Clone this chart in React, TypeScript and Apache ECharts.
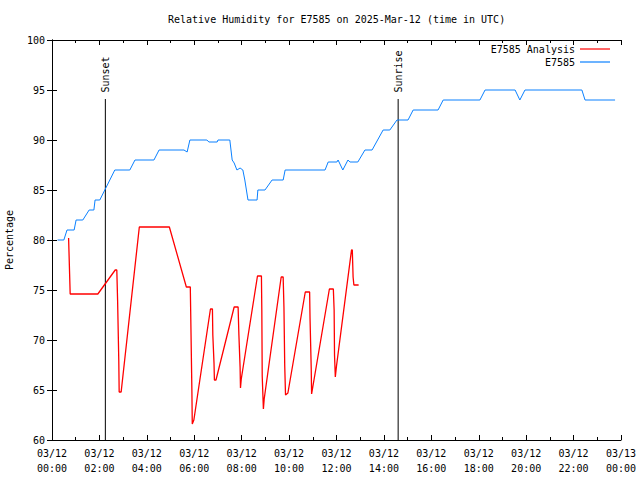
import React, { useEffect, useRef } from "react";
import * as echarts from "echarts";

const chartTitle = "Relative Humidity for E7585 on 2025-Mar-12 (time in UTC)";
const yAxisName = "Percentage";
const analysisName = "E7585 Analysis";
const obsName = "E7585";

const analysisTimes = [
  "00:42", "00:43", "00:45", "00:46", "01:56", "02:40", "02:44", "02:46", "02:49", "02:50",
  "02:55", "03:41", "04:57", "05:40", "05:50", "05:51", "05:54", "05:55", "05:59", "06:41",
  "06:46", "06:47", "06:50", "06:51", "06:55", "07:41", "07:51", "07:53", "07:56", "07:57",
  "07:59", "08:40", "08:50", "08:51", "08:52", "08:55", "08:57", "09:40", "09:45", "09:47",
  "09:49", "09:51", "09:57", "10:41", "10:52", "10:53", "10:56", "10:57", "11:00", "11:42",
  "11:52", "11:54", "11:55", "11:57", "12:00", "12:38", "12:40", "12:42", "12:44", "12:56",
];
const analysisValues = [
  80.2, 78.8, 76.0, 74.6, 74.6, 77.0, 77.0, 74.0, 68.0, 64.8,
  64.8, 81.3, 81.3, 75.3, 75.3, 72.8, 65.0, 61.6, 62.0, 73.1,
  73.1, 70.5, 67.7, 66.0, 66.0, 73.3, 73.3, 70.5, 67.3, 65.2,
  66.1, 76.4, 76.4, 73.0, 66.4, 63.1, 64.1, 76.3, 76.3, 73.3,
  67.4, 64.5, 64.7, 74.8, 74.8, 72.2, 67.2, 64.6, 65.3, 75.1,
  75.1, 73.0, 68.5, 66.3, 67.4, 79.0, 79.0, 76.3, 75.5, 75.5,
];

const obsTimes = [
  "00:14", "00:30", "00:38", "00:56", "01:01", "01:18", "01:34", "01:46", "01:49", "02:01",
  "02:39", "03:17", "03:30", "04:18", "04:31", "05:34", "05:42", "05:49", "06:32", "06:37",
  "06:58", "07:00", "07:30", "07:36", "07:41", "07:48", "07:56", "08:03", "08:08", "08:16",
  "08:39", "08:41", "08:59", "09:17", "09:45", "09:50", "11:31", "11:39", "12:01", "12:04",
  "12:16", "12:29", "12:34", "12:54", "13:12", "13:30", "13:58", "14:15", "14:33", "15:01",
  "15:14", "16:17", "16:30", "18:03", "18:16", "19:32", "19:44", "19:57", "22:21", "22:29",
  "23:45",
];
const obsValues = [
  80, 80, 81, 81, 82, 82, 83, 83, 84, 84,
  87, 87, 88, 88, 89, 89, 88.8, 90, 90, 89.8,
  89.8, 90, 90, 88, 87.7, 87, 87.2, 87, 86, 84,
  84, 85, 85, 86, 86, 87, 87, 87.8, 87.8, 88,
  87, 88, 87.8, 87.8, 89, 89, 91, 91, 92, 92,
  93, 93, 94, 94, 95, 95, 94, 95, 95, 94,
  94,
];

const sunEvents = ["Sunset", "Sunrise"];
const sunTimes = ["02:15", "14:36"];
const sunLineTop = 94.1;
const sunLabelAt = 94.6;

const xTickHours = [0, 2, 4, 6, 8, 10, 12, 14, 16, 18, 20, 22, 24];
const xTickLabels = [
  "03/12\n00:00", "03/12\n02:00", "03/12\n04:00", "03/12\n06:00", "03/12\n08:00",
  "03/12\n10:00", "03/12\n12:00", "03/12\n14:00", "03/12\n16:00", "03/12\n18:00",
  "03/12\n20:00", "03/12\n22:00", "03/13\n00:00",
];

const toHours = (s: string) => {
  const [h, m] = s.split(":").map(Number);
  return h + m / 60;
};

const FONT = "'DejaVu Sans Mono', 'Liberation Mono', monospace";

export default function App() {
  const ref = useRef<HTMLDivElement>(null);

  useEffect(() => {
    if (!ref.current) return;
    const chart = echarts.init(ref.current, null, { renderer: "svg" });

    const analysisData = analysisTimes.map((t, i) => [toHours(t), analysisValues[i]]);
    const obsData = obsTimes.map((t, i) => [toHours(t), obsValues[i]]);

    const sunSeries: any[] = [];
    sunEvents.forEach((name, i) => {
      const h = toHours(sunTimes[i]);
      sunSeries.push({
        name,
        type: "line",
        data: [
          [h, 60],
          [h, sunLineTop],
        ],
        symbol: "none",
        lineStyle: { color: "#000", width: 1 },
        silent: true,
        z: 1,
      });
      sunSeries.push({
        name: name + " label",
        type: "scatter",
        data: [[h, sunLabelAt]],
        symbolSize: 1,
        itemStyle: { color: "rgba(0,0,0,0)" },
        silent: true,
        label: {
          show: true,
          formatter: name,
          position: "top",
          distance: 0,
          rotate: 90,
          align: "left",
          verticalAlign: "middle",
          fontFamily: FONT,
          fontSize: 10,
          color: "#000",
          opacity: 1,
          offset: [1, 0],
        },
      });
    });

    const labelFor = (v: number) => {
      const idx = xTickHours.indexOf(Math.round(v));
      return idx >= 0 ? xTickLabels[idx] : "";
    };

    const legendCommon = {
      right: 30,
      padding: 0,
      align: "right",
      icon: "rect",
      itemWidth: 30,
      itemHeight: 1.2,
      textStyle: { fontFamily: FONT, fontSize: 10, color: "#000" },
    };

    chart.setOption({
      animation: false,
      backgroundColor: "#fff",
      textStyle: { fontFamily: FONT },
      title: {
        text: chartTitle,
        left: 168,
        top: 14,
        padding: 0,
        textStyle: { fontFamily: FONT, fontSize: 10, fontWeight: "normal", color: "#000" },
      },
      legend: [
        { ...legendCommon, data: [analysisName], top: 44 },
        { ...legendCommon, data: [obsName], top: 57 },
      ],
      grid: { left: 52, right: 19, top: 40, bottom: 40, containLabel: false, outerBoundsMode: "none" },
      xAxis: [
        {
          type: "value",
          min: 0,
          max: 24,
          interval: 2,
          position: "bottom",
          axisLine: { show: true, lineStyle: { color: "#000", width: 1 } },
          axisTick: { show: true, inside: true, length: 5, lineStyle: { color: "#000" } },
          minorTick: { show: true, splitNumber: 2, length: 3, lineStyle: { color: "#000" } },
          splitLine: { show: false },
          axisLabel: {
            formatter: labelFor,
            fontFamily: FONT,
            fontSize: 10,
            color: "#000",
            lineHeight: 15,
            margin: 6,
          },
        },
        {
          type: "value",
          min: 0,
          max: 24,
          interval: 2,
          position: "top",
          axisLine: { show: true, lineStyle: { color: "#000", width: 1 } },
          axisTick: { show: true, inside: true, length: 5, lineStyle: { color: "#000" } },
          minorTick: { show: true, splitNumber: 2, length: 3, lineStyle: { color: "#000" } },
          splitLine: { show: false },
          axisLabel: { show: false },
        },
      ],
      yAxis: [
        {
          type: "value",
          min: 60,
          max: 100,
          interval: 5,
          position: "left",
          name: yAxisName,
          nameLocation: "middle",
          nameRotate: 90,
          nameGap: 38,
          nameTextStyle: { fontFamily: FONT, fontSize: 10, color: "#000" },
          axisLine: { show: true, lineStyle: { color: "#000", width: 1 } },
          axisTick: { show: true, inside: true, length: 5, lineStyle: { color: "#000" } },
          splitLine: { show: false },
          axisLabel: { fontFamily: FONT, fontSize: 10, color: "#000", margin: 7 },
        },
        {
          type: "value",
          min: 60,
          max: 100,
          interval: 5,
          position: "right",
          axisLine: { show: true, lineStyle: { color: "#000", width: 1 } },
          axisTick: { show: true, inside: true, length: 5, lineStyle: { color: "#000" } },
          splitLine: { show: false },
          axisLabel: { show: false },
        },
      ],
      series: [
        {
          name: analysisName,
          type: "line",
          data: analysisData,
          symbol: "none",
          color: "#ff0000",
          lineStyle: { color: "#ff0000", width: 1.3 },
          z: 3,
        },
        {
          name: obsName,
          type: "line",
          data: obsData,
          symbol: "none",
          color: "#0a80ff",
          lineStyle: { color: "#0a80ff", width: 1 },
          z: 3,
        },
        ...sunSeries,
      ],
    });

    return () => chart.dispose();
  }, []);

  return <div ref={ref} style={{ width: 640, height: 480, position: "absolute", left: 0, top: 0 }} />;
}
